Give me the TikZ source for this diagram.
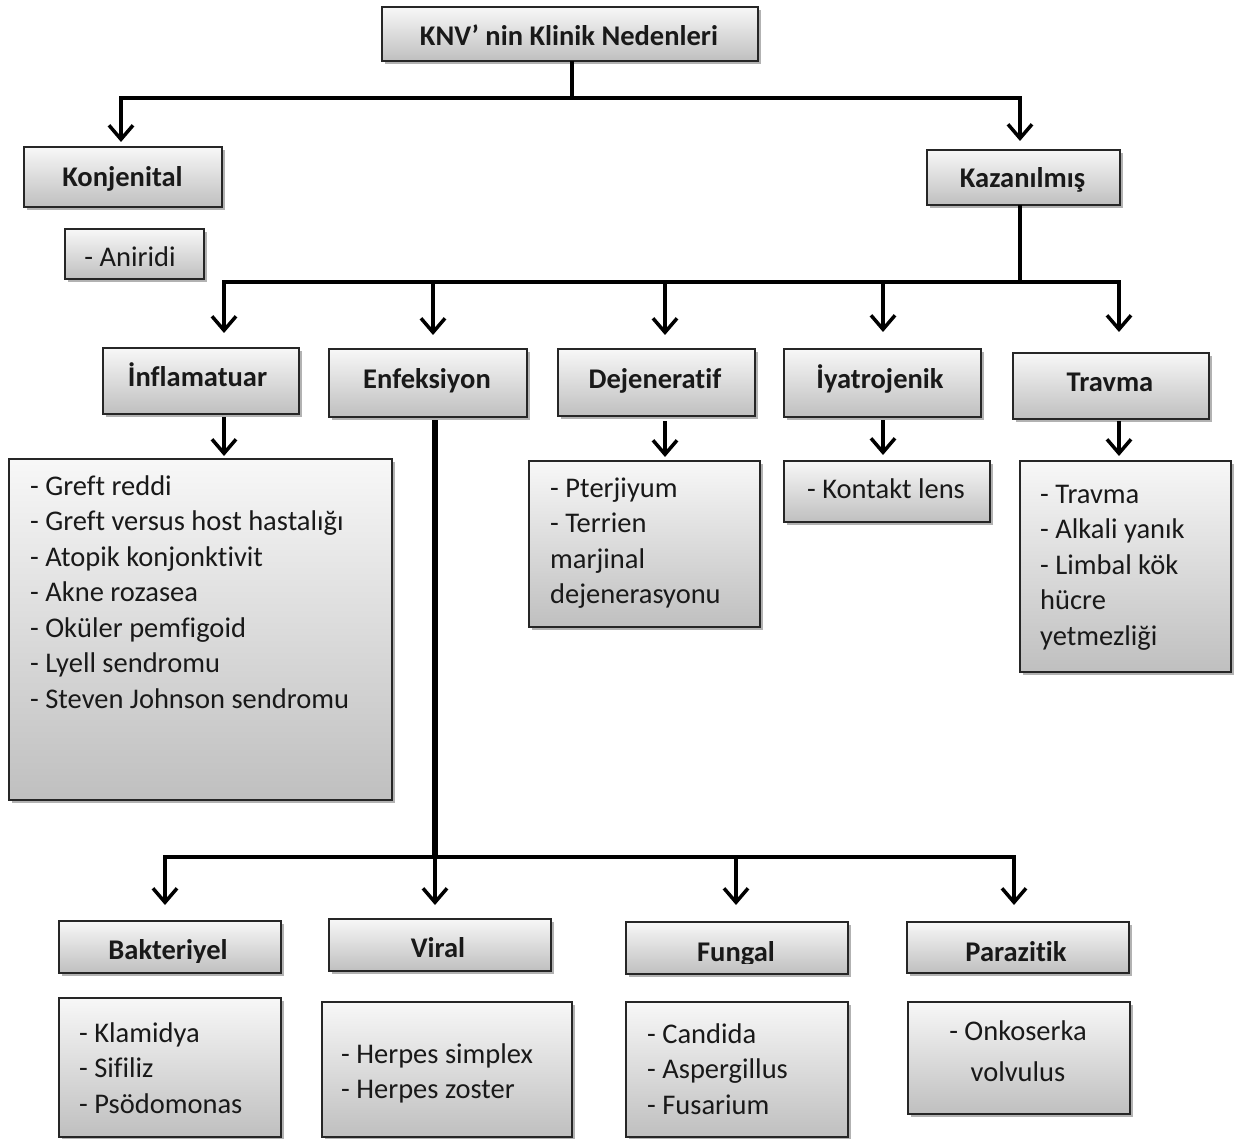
\documentclass[tikz,border=0pt]{standalone}
\usepackage{fontspec}
\setmainfont{Carlito}[Ligatures={TeX,CommonOff}]
\usetikzlibrary{arrows.meta,shadows}
\begin{document}
\begin{tikzpicture}[x=1pt,y=-1pt,
  box/.style={draw=black!85, line width=1.4pt, top color=black!3, bottom color=black!25,
    drop shadow={shadow xshift=2.5pt, shadow yshift=-3pt, opacity=0.3, fill=black},
    inner sep=0pt, outer sep=0pt},
  hd/.style={font={\fontsize{28.5}{35.5}\selectfont\bfseries}, text=black!90, inner sep=0pt, anchor=base},
  lt/.style={font={\fontsize{28.5}{35.5}\selectfont}, text=black!90, inner sep=0pt, align=left, anchor=north west},
  ln/.style={line width=3.5pt, black},
  arr/.style={ln, -{Straight Barb[length=14pt,width=24pt]}},
  darr/.style={ln, {Straight Barb[length=14pt,width=24pt]}-{Straight Barb[length=14pt,width=24pt]}}]
\useasboundingbox (0,0) rectangle (1236,1139);
\fill[white] (0,0) rectangle (1236,1139);

% boxes
\node[box, minimum width=376pt, minimum height=54pt] (title) at (570,34) {};
\node[box, minimum width=198pt, minimum height=60pt] (konj) at (123,177) {};
\node[box, minimum width=139pt, minimum height=50pt] (anir) at (134.5,254) {};
\node[box, minimum width=193pt, minimum height=55pt] (kaz) at (1023.5,177.5) {};
\node[box, minimum width=196pt, minimum height=66pt] (infl) at (201,381) {};
\node[box, minimum width=198pt, minimum height=68pt] (enf) at (428,383) {};
\node[box, minimum width=197pt, minimum height=67pt] (dej) at (656.5,382.5) {};
\node[box, minimum width=197pt, minimum height=68pt] (iya) at (882.5,383) {};
\node[box, minimum width=196pt, minimum height=66pt] (trv) at (1111,386) {};
\node[box, minimum width=383pt, minimum height=341pt] (infll) at (200.5,629.5) {};
\node[box, minimum width=231pt, minimum height=166pt] (dejl) at (644.5,544) {};
\node[box, minimum width=206pt, minimum height=61pt] (iyal) at (887,491.5) {};
\node[box, minimum width=211pt, minimum height=211pt] (trvl) at (1125.5,566.5) {};
\node[box, minimum width=222pt, minimum height=52pt] (bak) at (170,947) {};
\node[box, minimum width=222pt, minimum height=52pt] (vir) at (440,945) {};
\node[box, minimum width=222pt, minimum height=52pt] (fun) at (737,948) {};
\node[box, minimum width=222pt, minimum height=51pt] (par) at (1018,947.5) {};
\node[box, minimum width=222pt, minimum height=139pt] (bakl) at (170,1067.5) {};
\node[box, minimum width=250pt, minimum height=135pt] (virl) at (447,1069.5) {};
\node[box, minimum width=222pt, minimum height=135pt] (funl) at (737,1069.5) {};
\node[box, minimum width=222pt, minimum height=112pt] (parl) at (1019,1058) {};

% headings
\node[hd] (titlet) at (569,46) {KNV’ nin Klinik Nedenleri};
\node[hd] (konjt) at (122.5,187) {Konjenital};
\node[hd] (kazt) at (1022.5,188) {Kazanılmış};
\node[hd] (inflt) at (197.5,386) {İnflamatuar};
\node[hd] (enft) at (427,388) {Enfeksiyon};
\node[hd] (dejt) at (655,388) {Dejeneratif};
\node[hd] (iyat) at (880,388) {İyatrojenik};
\node[hd] (trvt) at (1110,391) {Travma};
\begin{scope}
\clip (59,915) rectangle (281,962);
\node[hd] (bakt) at (168,959) {Bakteriyel};
\end{scope}
\node[hd] (virt) at (438,957) {Viral};
\begin{scope}
\clip (626,915) rectangle (848,963);
\node[hd] (funt) at (736,961) {Fungal};
\end{scope}
\node[hd] (part) at (1016,961) {Parazitik};

% list texts
\node[lt, anchor=base] (anirt) at (130,267) {- Aniridi};
\node[lt] (inflt2) at (30,470.15) {\strut- Greft reddi\\- Greft versus host hastalığı\\- Atopik konjonktivit\\- Akne rozasea\\- Oküler pemfigoid\\- Lyell sendromu\\- Steven Johnson sendromu};
\node[lt] (dejt2) at (550,472.15) {\strut- Pterjiyum\\- Terrien\\marjinal\\dejenerasyonu};
\node[lt] (iyat2) at (807,473.15) {\strut- Kontakt lens};
\node[lt] (trvt2) at (1040,478.15) {\strut- Travma\\- Alkali yanık\\- Limbal kök\\hücre\\yetmezliği};
\node[lt] (baktt) at (79,1017.15) {\strut- Klamidya\\- Sifiliz\\- Psödomonas};
\node[lt] (virtt) at (341,1038.15) {\strut- Herpes simplex\\- Herpes zoster};
\node[lt] (funtt) at (647,1018.15) {\strut- Candida\\- Aspergillus\\- Fusarium};
\node[lt, align=center, anchor=north] (partt) at (1018,1015.15) {\strut- Onkoserka\\[5.5pt]volvulus};

% connector coordinates
\coordinate (b1L) at (121,98);
\coordinate (b1R) at (1020,98);
\coordinate (b2L) at (224,282);
\coordinate (b2R) at (1119,282);
\coordinate (c2) at (433,282);
\coordinate (c3) at (665,282);
\coordinate (c4) at (883,282);
\coordinate (e) at (435,857);
\coordinate (b3L) at (165,857);
\coordinate (b3R) at (1014,857);
\coordinate (f) at (736,857);

% level 1
\draw[ln] (title.south -| 572,0) -- (b1L -| 572,0);
\draw[darr, shorten <=5pt, shorten >=9pt] (b1L |- konj.north) -- (b1L) -- (b1R) -- (b1R |- kaz.north);
% level 2
\draw[ln] (b1R |- kaz.south) -- (b1R |- b2L);
\draw[darr, shorten <=15pt, shorten >=21pt] (b2L |- infl.north) -- (b2L) -- (b2R) -- (b2R |- trv.north);
\draw[arr, shorten >=14pt] (c2) -- (c2 |- enf.north);
\draw[arr, shorten >=14pt] (c3) -- (c3 |- dej.north);
\draw[arr, shorten >=17pt] (c4) -- (c4 |- iya.north);
% level 3
\draw[arr, shorten <=3pt, shorten >=3pt] (b2L |- infl.south) -- (b2L |- infll.north);
\draw[arr, shorten <=5pt, shorten >=4pt] (c3 |- dej.south) -- (c3 |- dejl.north);
\draw[arr, shorten <=3pt, shorten >=6pt] (c4 |- iya.south) -- (c4 |- iyal.north);
\draw[arr, shorten <=2pt, shorten >=5pt] (b2R |- trv.south) -- (b2R |- trvl.north);
% Enfeksiyon
\draw[line width=6.8pt, black] ([yshift=-3pt]e |- enf.south) -- (e);
\draw[darr, shorten <=16pt, shorten >=17pt] (b3L |- bak.north) -- (b3L) -- (b3R) -- (b3R |- par.north);
\draw[arr, shorten >=14pt] (e) -- (e |- vir.north);
\draw[arr, shorten >=17pt] (f) -- (f |- fun.north);
\end{tikzpicture}
\end{document}
